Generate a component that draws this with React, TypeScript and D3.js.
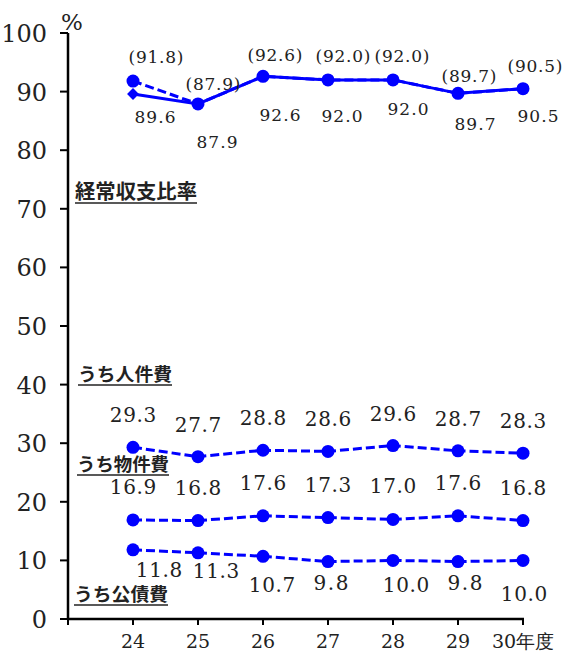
import React from "react";
import * as d3 from "d3";

const years = [24, 25, 26, 27, 28, 29, 30];
const yearLabels = ["24", "25", "26", "27", "28", "29", "30年度"];
const ratioActual = [89.6, 87.9, 92.6, 92.0, 92.0, 89.7, 90.5];
const ratioParen = [91.8, 87.9, 92.6, 92.0, 92.0, 89.7, 90.5];
const personnel = [29.3, 27.7, 28.8, 28.6, 29.6, 28.7, 28.3];
const material = [16.9, 16.8, 17.6, 17.3, 17.0, 17.6, 16.8];
const debt = [11.8, 11.3, 10.7, 9.8, 10.0, 9.8, 10.0];
const yTicks = [0, 10, 20, 30, 40, 50, 60, 70, 80, 90, 100];

// label placement (layout only)
const actualDx = [22, 19, 17, 14, 15, 17, 15];
const actualDy = [29, 44, 45, 42, 35, 37, 33];
const parenDx = [23, 15, 12, 15, 9, 11, 12];
const parenDy = [-18, -14, -15, -18, -18, -11, -17];
const debtDx = [26, 18, 9, 3, 13, 7, 1];
const debtDy = [27, 25, 36, 28, 32, 28, 41];

const BLUE = "#0000FF";
const W = 566;
const H = 653;

const x = d3.scaleLinear().domain([23, 30]).range([68, 523]);
const y = d3.scaleLinear().domain([0, 100]).range([619, 33]);

const lineGen = d3
  .line<number>()
  .x((_, i) => x(years[i]))
  .y((d) => y(d));

const serif = '"DejaVu Serif", "Times New Roman", "Liberation Serif", serif';
const cjk = '"Noto Sans CJK JP", sans-serif';

function Labels({
  values,
  dx,
  dy,
  fmt,
  size,
  perChar,
}: {
  values: number[];
  dx: number[] | number;
  dy: number[] | number;
  fmt: (v: number) => string;
  size: number;
  perChar: (s: string) => number;
}) {
  return (
    <g>
      {values.map((v, i) => {
        const s = fmt(v);
        const ddx = Array.isArray(dx) ? dx[i] : dx;
        const ddy = Array.isArray(dy) ? dy[i] : dy;
        return (
          <text
            key={i}
            x={x(years[i]) + ddx}
            y={y(v) + ddy}
            textAnchor="middle"
            style={{ fontFamily: serif, fontSize: size }}
            fill="#222"
            textLength={perChar(s)}
            lengthAdjust="spacing"
          >
            {s}
          </text>
        );
      })}
    </g>
  );
}

function Series({ values, dashed }: { values: number[]; dashed: boolean }) {
  return (
    <path
      d={lineGen(values) || ""}
      fill="none"
      stroke={BLUE}
      strokeWidth={3}
      strokeDasharray={dashed ? "9,4" : undefined}
    />
  );
}

function Dots({ values }: { values: number[] }) {
  return (
    <g>
      {values.map((v, i) => (
        <circle key={i} cx={x(years[i])} cy={y(v)} r={6.5} fill={BLUE} />
      ))}
    </g>
  );
}

function Category({
  text,
  tx,
  baseline,
  len,
  size,
}: {
  text: string;
  tx: number;
  baseline: number;
  len: number;
  size: number;
}) {
  return (
    <g>
      <text
        x={tx}
        y={baseline}
        style={{ fontFamily: cjk, fontWeight: 700, fontSize: size }}
        fill="#222"
        textLength={len}
        lengthAdjust="spacingAndGlyphs"
      >
        {text}
      </text>
      <line x1={tx} x2={tx + len} y1={baseline + 4} y2={baseline + 4} stroke="#222" strokeWidth={1.5} />
    </g>
  );
}

export default function App() {
  const diamond = d3.symbol().type(d3.symbolDiamond2).size(90)();
  const upperW = (s: string) => (s.startsWith("(") ? 55 : 41);
  const lowerW = (s: string) => s.length * 11.6;
  return (
    <svg
      width={W}
      height={H}
      style={{ position: "absolute", left: 0, top: 0, background: "#fff" }}
    >
      <rect width={W} height={H} fill="#fff" />
      {/* axes */}
      <line x1={68} x2={68} y1={y(100)} y2={y(0)} stroke="#000" strokeWidth={2.5} />
      <line x1={68} x2={x(30) + 1} y1={y(0)} y2={y(0)} stroke="#000" strokeWidth={2.5} />
      {yTicks.map((t) => (
        <g key={t}>
          <line x1={60} x2={68} y1={y(t)} y2={y(t)} stroke="#000" strokeWidth={2} />
          <text
            x={47}
            y={y(t) + 9}
            textAnchor="end"
            style={{ fontFamily: serif, fontSize: 24 }}
            fill="#222"
          >
            {t}
          </text>
        </g>
      ))}
      {[23, ...years].map((v) => (
        <line key={v} x1={x(v)} x2={x(v)} y1={y(0)} y2={y(0) + 6} stroke="#000" strokeWidth={2} />
      ))}
      {years.map((v, i) => (
        <text
          key={v}
          x={x(v)}
          y={648}
          textAnchor="middle"
          style={{ fontFamily: serif, fontSize: 19 }}
          fill="#222"
        >
          {yearLabels[i]}
        </text>
      ))}
      <text x={61} y={30} style={{ fontFamily: serif, fontSize: 23 }} fill="#222">
        %
      </text>

      {/* category labels */}
      <Category text="経常収支比率" tx={75} baseline={199} len={122} size={20} />
      <Category text="うち人件費" tx={78} baseline={381} len={94} size={18} />
      <Category text="うち物件費" tx={77} baseline={471} len={92} size={18} />
      <Category text="うち公債費" tx={74} baseline={601} len={94} size={18} />

      {/* lines */}
      <Series values={ratioActual} dashed={false} />
      <Series values={ratioParen} dashed={true} />
      <Series values={personnel} dashed={true} />
      <Series values={material} dashed={true} />
      <Series values={debt} dashed={true} />

      {/* markers */}
      {ratioActual.map((v, i) => (
        <path key={i} d={diamond || ""} transform={`translate(${x(years[i])},${y(v)})`} fill={BLUE} />
      ))}
      <Dots values={ratioParen} />
      <Dots values={personnel} />
      <Dots values={material} />
      <Dots values={debt} />

      {/* data labels */}
      <Labels
        values={ratioParen}
        dx={parenDx}
        dy={parenDy}
        fmt={(v) => `(${v.toFixed(1)})`}
        size={17}
        perChar={upperW}
      />
      <Labels
        values={ratioActual}
        dx={actualDx}
        dy={actualDy}
        fmt={(v) => v.toFixed(1)}
        size={17}
        perChar={upperW}
      />
      <Labels values={personnel} dx={0} dy={-25} fmt={(v) => v.toFixed(1)} size={20} perChar={lowerW} />
      <Labels values={material} dx={0} dy={-26} fmt={(v) => v.toFixed(1)} size={20} perChar={lowerW} />
      <Labels values={debt} dx={debtDx} dy={debtDy} fmt={(v) => v.toFixed(1)} size={20} perChar={lowerW} />
    </svg>
  );
}
